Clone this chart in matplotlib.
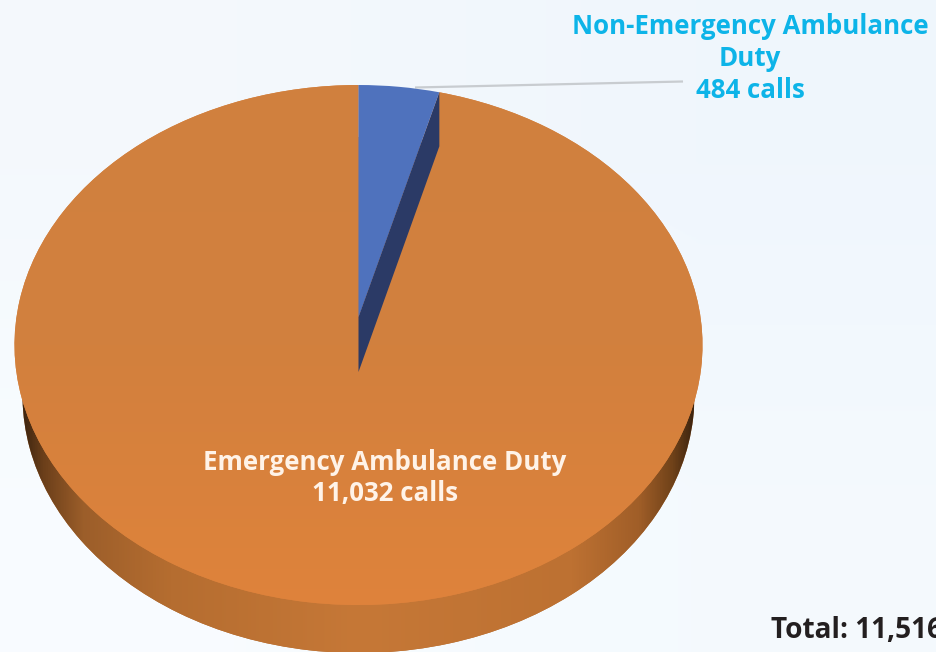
import numpy as np
import matplotlib
matplotlib.use("Agg")
import matplotlib.pyplot as plt
from matplotlib.transforms import Transform, Affine2D
from matplotlib.colors import LinearSegmentedColormap

categories = ["Non-Emergency Ambulance\nDuty", "Emergency Ambulance Duty"]
calls = [484, 11032]
call_labels = ["484 calls", "11,032 calls"]
total_label = "Total: 11,516"
slice_colors = ["#4f72bd", "#d9813d"]
FONT = "Open Sans"

W, H = 936, 652
CX, CY, RX, RY, K, DEPTH = 358.5, 317, 342, 257, 0.1078, 55


class Persp(Transform):
    """Tilted-disc projection of the unit pie onto the pixel-sized data space."""
    input_dims = output_dims = 2
    has_inverse = False

    def transform_non_affine(self, xy):
        xy = np.asarray(xy, float)
        w = 1 + K * xy[:, 1]
        return np.column_stack([CX + RX * xy[:, 0] / w, CY - RY * xy[:, 1] / w])


fig = plt.figure(figsize=(W / 100, H / 100), dpi=100)
ax = fig.add_axes([0, 0, 1, 1])

side, _ = ax.pie(calls, colors=["#2b3a66", "#b06a30"], startangle=90, counterclock=False, radius=1)
top, _ = ax.pie(calls, colors=slice_colors, startangle=90, counterclock=False, radius=1)
ax.set_aspect("auto")
ax.set_xlim(0, W)
ax.set_ylim(H, 0)
ax.axis("off")

persp = Persp()
# lower rim: slightly smaller disc lying further from the viewer
lower = Affine2D().translate(-358.5, -345).scale(336 / 344, 258 / 260).translate(358.5, 395)
for w in side:
    w.set_transform(persp + lower + ax.transData)
    w.set_zorder(1)
for w in top:
    w.set_transform(persp + ax.transData)
    w.set_zorder(3)

# page background
bg = np.array([[[0.957, 0.976, 0.992], [0.941, 0.965, 0.992]],
               [[0.973, 0.988, 1.000], [0.957, 0.980, 0.996]]])
ax.imshow(bg, extent=(0, W, H, 0), aspect="auto", interpolation="bilinear", zorder=0)

# rim shading, dark only close to the outer edges
rim = LinearSegmentedColormap.from_list("rim", [
    (0.00, "#3e2510"), (0.03, "#6b3f1a"), (0.09, "#9c5e2a"), (0.22, "#b56d30"), (0.50, "#c67837"),
    (0.82, "#bd7132"), (0.92, "#a05e28"), (0.97, "#704219"), (1.00, "#3e2510")])
im = ax.imshow(np.linspace(0, 1, 256)[None, :], cmap=rim, extent=(22, 694, H + 20, 300),
               aspect="auto", zorder=2)
im.set_clip_path(side[1])

# top-face shading
face = LinearSegmentedColormap.from_list("face", ["#d0803f", "#d2803e", "#df833b"])
im2 = ax.imshow(np.linspace(0, 1, 128)[:, None], cmap=face, extent=(0, W, 610, 80),
                aspect="auto", zorder=3.1)
im2.set_clip_path(top[1])
ax.set_xlim(0, W)
ax.set_ylim(H, 0)

# cut face of the small slice
t = np.deg2rad(top[0].theta1)
rim_xy = persp.transform(np.array([[np.cos(t), np.sin(t)], [0.0, 0.0]]))
(rx, ry), (ax0, ay0) = rim_xy
ax.fill([ax0, rx, rx, ax0], [ay0, ry, ry + DEPTH - 1, ay0 + DEPTH],
        color="#2b3a66", lw=0, zorder=3.5)
top[0].set_zorder(4)

# leader line
ax.plot([415, 683], [87.5, 81.5], color="#c8ccd0", lw=1.6, zorder=2.5, solid_capstyle="butt")

tk = dict(family=FONT, fontweight="bold", fontsize=18.6, ha="center", va="center")
ax.text(750, 42.5, categories[0], color="#0db4e8", linespacing=1.2, zorder=6, **tk)
ax.text(750, 90.5, call_labels[0], color="#0db4e8", zorder=6, **tk)
ax.text(385, 462, categories[1], color="#fff3e8", zorder=6, **tk)
ax.text(385, 494, call_labels[1], color="#fff3e8", zorder=6, **tk)
ax.text(771, 630, total_label, color="#231f20", family=FONT, fontweight="bold",
        fontsize=20.2, ha="left", va="center", zorder=6)

fig.savefig("out.png", dpi=100)
